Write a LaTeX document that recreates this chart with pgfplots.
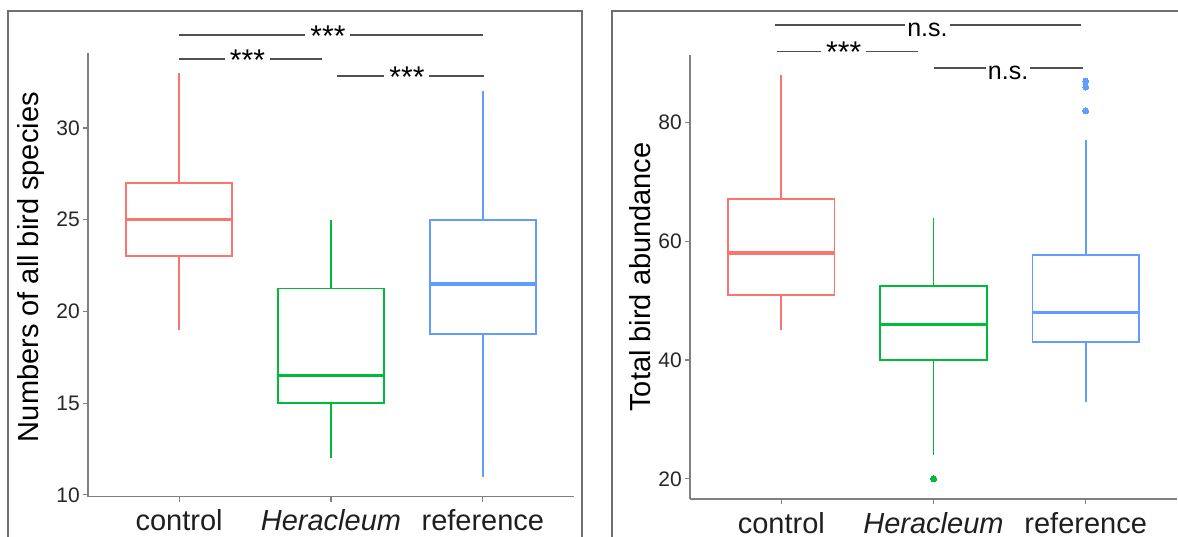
\documentclass[border=0pt]{standalone}
\usepackage{fontspec}
\setmainfont{Liberation Sans}
\usepackage{pgfplots}
\pgfplotsset{compat=1.18}
\definecolor{cR}{HTML}{F8766D}
\definecolor{cG}{HTML}{00BA38}
\definecolor{cB}{HTML}{619CFF}
\definecolor{axg}{HTML}{808080}
\definecolor{frm}{HTML}{707070}
\definecolor{brk}{HTML}{505050}
\tikzset{sig/.style={fill=white, inner xsep=5pt, inner ysep=1pt, anchor=base, text=black}}
% box: #1 position, #2 left edge, #3 right edge, #4 lower whisker, #5 lower quartile,
%      #6 median, #7 upper quartile, #8 upper whisker, #9 colour
\newcommand{\bx}[9]{%
 \addplot[draw=#9, line width=1.8pt, line cap=rect, line join=miter] coordinates {(#2,#5) (#3,#5) (#3,#7) (#2,#7) (#2,#5)};
 \addplot[draw=#9, line width=1.8pt] coordinates {(#1,#7) (#1,#8)};
 \addplot[draw=#9, line width=1.8pt] coordinates {(#1,#4) (#1,#5)};
 \addplot[draw=#9, line width=3.5pt] coordinates {(#2,#6) (#3,#6)};
}
\pgfplotsset{
 mybox/.style={
  scale only axis, anchor=south west,
  xmin=0.4, xmax=3.6, xtick={1,2,3},
  xticklabels={control,\textit{Heracleum},reference},
  axis x line*=bottom, axis y line*=left,
  axis line style={-, draw=axg, line width=1.5pt},
  every tick/.style={draw=axg, line width=1.2pt},
  tick align=outside, major tick length=5pt,
  xticklabel style={font=\fontsize{29}{34}\selectfont, text=black!88, inner sep=0pt, yshift=-8pt},
  yticklabel style={font=\fontsize{21}{25}\selectfont, text=black!85, inner sep=0pt, xshift=-3pt},
  /pgf/number format/assume math mode=true,
  ylabel style={font=\fontsize{29}{34}\selectfont, text=black, anchor=center},
  clip=false,
  every axis plot/.append style={solid, mark=none},
 },
}
\begin{document}
\begin{tikzpicture}
\useasboundingbox (0pt,0pt) rectangle (1178pt,537pt);
% panel frames
\draw[frm, line width=1.5pt] (8pt,-10pt) -- (8pt,526pt) -- (582pt,526pt) -- (582pt,-10pt);
\draw[frm, line width=1.5pt] (612pt,-10pt) -- (612pt,526pt) -- (1190pt,526pt);

% ---------------- left panel
\begin{axis}[mybox, at={(88pt,40.3pt)}, width=486pt, height=444pt,
  ymin=9.9, ymax=34.1, ytick={10,15,20,25,30},
  ylabel={Numbers of all bird species},
  ylabel style={at={(axis description cs:-0.117,0.517)}}]
\bx{1}{0.65}{1.35}{19}{23}{25}{27}{33}{cR}
\bx{2}{1.65}{2.35}{12}{15}{16.5}{21.25}{25}{cG}
\bx{3}{2.65}{3.35}{11}{18.75}{21.5}{25}{32}{cB}
% significance brackets
\draw[brk, line width=1.7pt] (axis cs:1,35.05) -- (axis cs:3,35.05);
\node[sig, font=\fontsize{30}{34}\selectfont, yshift=-11pt] at (axis cs:1.98,35.05) {***};
\draw[brk, line width=1.7pt] (axis cs:1,33.74) -- (axis cs:1.94,33.74);
\node[sig, font=\fontsize{30}{34}\selectfont, yshift=-11pt] at (axis cs:1.45,33.74) {***};
\draw[brk, line width=1.7pt] (axis cs:2.04,32.82) -- (axis cs:3.01,32.82);
\node[sig, font=\fontsize{30}{34}\selectfont, yshift=-11pt] at (axis cs:2.5,32.82) {***};
\end{axis}

% ---------------- right panel
\begin{axis}[mybox, at={(690pt,38pt)}, width=487pt, height=444pt,
  ymin=16.6, ymax=91.4, ytick={20,40,60,80},
  ylabel={Total bird abundance},
  ylabel style={at={(axis description cs:-0.103,0.5)}}]
\bx{1}{0.65}{1.35}{45}{51}{58}{67.2}{88}{cR}
\bx{2}{1.65}{2.35}{24}{40}{46}{52.5}{64}{cG}
\bx{3}{2.65}{3.35}{33}{43}{48}{57.7}{77}{cB}
% outliers
\addplot[only marks, mark=*, mark size=3pt, mark options={fill=cG, draw=cG, line width=0pt}] coordinates {(2,20)};
\addplot[only marks, mark=*, mark size=3pt, mark options={fill=cB, draw=cB, line width=0pt}] coordinates {(3,82) (3,86) (3,87)};
% significance brackets
\draw[brk, line width=1.7pt] (axis cs:0.96,96.4) -- (axis cs:2.97,96.4);
\node[sig, font=\fontsize{25}{30}\selectfont, inner xsep=2pt, yshift=-11pt] at (axis cs:1.96,96.4) {n.s.};
\draw[brk, line width=1.7pt] (axis cs:0.97,92.0) -- (axis cs:1.90,92.0);
\node[sig, font=\fontsize{30}{34}\selectfont, yshift=-11pt] at (axis cs:1.41,92.0) {***};
\draw[brk, line width=1.7pt] (axis cs:2.0,89.2) -- (axis cs:2.98,89.2);
\node[sig, font=\fontsize{25}{30}\selectfont, inner xsep=2pt, yshift=-11pt] at (axis cs:2.49,89.2) {n.s.};
\end{axis}
\end{tikzpicture}
\end{document}
